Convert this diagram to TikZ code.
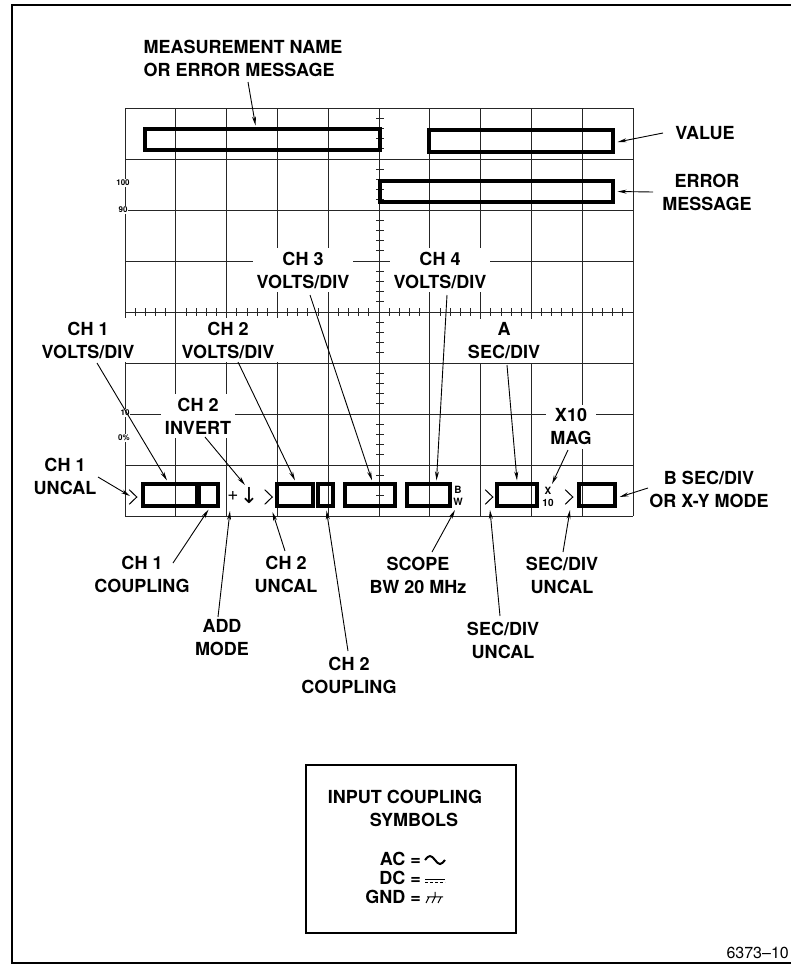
\documentclass[tikz,border=0pt]{standalone}
\usepackage{fontspec}
\setmainfont{TeX Gyre Heros}
\newfontfamily\dvsans{DejaVu Sans}
\usetikzlibrary{arrows.meta,positioning,calc}

\begin{document}
\begin{tikzpicture}[
  x=1pt, y=-1pt,
  font=\bfseries\fontsize{18}{23}\selectfont,
  >=Stealth,
  lbl/.style={align=center, fill=white, inner sep=4pt},
  rdout/.style={draw=black, line width=3.2pt, inner sep=0pt, minimum height=22pt},
  gridln/.style={draw=black!85, line width=0.8pt},
  arr/.style={-{Stealth[length=9pt, width=4pt]}, line width=0.9pt},
  chev/.style={
    minimum width=9pt, minimum height=16pt, inner sep=0pt,
    path picture={\draw[line width=1pt]
      ([xshift=0.7pt,yshift=-0.7pt]path picture bounding box.north west)
      -- ([xshift=-0.7pt]path picture bounding box.east)
      -- ([xshift=0.7pt,yshift=0.7pt]path picture bounding box.south west);}
  },
  sclbl/.style={font=\bfseries\fontsize{8}{8}\selectfont, fill=white, inner sep=1pt},
  mini/.style={font=\bfseries\fontsize{10}{11.5}\selectfont, align=center, inner sep=0pt}
]
  \useasboundingbox (0,0) rectangle (791,970);

  %% frame
  \draw[line width=1.8pt] (791,5) -- (12,5) -- (12,963) -- (791,963);

  %% graticule
  \foreach \i in {0,...,10}
    \draw[gridln] ({125+50.8*\i},108) -- ({125+50.8*\i},516);
  \foreach \j in {0,...,8}
    \draw[gridln] (125,{108+51*\j}) -- (633,{108+51*\j});
  \foreach \k in {1,...,49}
    \draw[gridln] ({125+10.16*\k},308) -- ({125+10.16*\k},316);
  \foreach \k in {1,...,39}
    \draw[gridln] (376,{108+10.2*\k}) -- (384,{108+10.2*\k});

  \node[sclbl] (p100) at (123,183) {100};
  \node[sclbl] (p90) at (123,210) {90};
  \node[sclbl] (p10) at (125,413) {10};
  \node[sclbl] (p0) at (124,438) {0\%};

  %% labels
  \node[lbl, align=left] (meas) at (243,58) {MEASUREMENT NAME\\OR ERROR MESSAGE};
  \node[lbl] (value) at (705,133) {VALUE};
  \node[lbl] (errm) at (707,192) {ERROR\\MESSAGE};
  \node[lbl] (ch3v) at (303,270) {CH 3\\VOLTS/DIV};
  \node[lbl] (ch4v) at (440,270) {CH 4\\VOLTS/DIV};
  \node[lbl] (ch1v) at (88,340) {CH 1\\VOLTS/DIV};
  \node[lbl] (ch2v) at (228,340) {CH 2\\VOLTS/DIV};
  \node[lbl] (asec) at (504,341) {A\\SEC/DIV};
  \node[lbl] (ch2inv) at (198,416) {CH 2\\INVERT};
  \node[lbl] (x10) at (571,427) {X10\\MAG};
  \node[lbl] (ch1unc) at (65,476) {CH 1\\UNCAL};
  \node[lbl] (bsec) at (709,489) {B SEC/DIV\\OR X-Y MODE};
  \node[lbl] (ch1cpl) at (142,574) {CH 1\\COUPLING};
  \node[lbl] (ch2unc) at (286,574) {CH 2\\UNCAL};
  \node[lbl] (scope) at (418,575) {SCOPE\\BW 20 MHz};
  \node[lbl] (sunc2) at (562,575) {SEC/DIV\\UNCAL};
  \node[lbl] (addm) at (222,638) {ADD\\MODE};
  \node[lbl] (sunc1) at (503,640) {SEC/DIV\\UNCAL};
  \node[lbl] (ch2cpl) at (349,675) {CH 2\\COUPLING};

  %% readouts, top
  \node[rdout, minimum width=235, minimum height=21] (mbox) at (262.5,139.5) {};
  \node[rdout, minimum width=184] (vbox) at (521,141) {};
  \node[rdout, minimum width=233, minimum height=21] (ebox) at (496.5,191.5) {};

  %% readouts, bottom row
  \node[chev] (gt1) at (133,497) {};
  \node[rdout, minimum width=54] (v1) at (170,495) {};
  \node[rdout, minimum width=19] (c1) at (208.5,495) {};
  \node[font=\fontsize{19}{19}\selectfont, inner sep=0pt] (pl) at (233,496) {+};
  \node[font=\dvsans\fontsize{22}{22}\selectfont, inner sep=0pt] (inv) at (249,496) {↓};
  \node[chev] (gt2) at (268.5,497) {};
  \node[rdout, minimum width=36] (v2) at (295,495) {};
  \node[rdout, minimum width=15] (c2) at (325.5,495) {};
  \node[rdout, minimum width=50] (v3) at (370,495) {};
  \node[rdout, minimum width=43] (v4) at (428.5,495) {};
  \node[mini] (bw) at (458,496) {B\\W};
  \node[chev] (gt3) at (489,497) {};
  \node[rdout, minimum width=40] (va) at (517,495) {};
  \node[mini] (xm) at (548,497) {X\\10};
  \node[chev] (gt4) at (569,497) {};
  \node[rdout, minimum width=36] (vb) at (597,495) {};

  %% leaders
  \draw[arr] ($(meas)+(5,24)$) -- ($(mbox.north)+(-7,-2)$);
  \draw[arr] ($(value)+(-42,0)$) -- ($(vbox.east)+(3,1)$);
  \draw[arr] ($(errm)+(-54,0)$) -- ($(ebox.east)+(3,0)$);
  \draw[arr] ($(ch1v)+(9,23)$) -- ($(v1.north)+(-3,-2)$);
  \draw[arr] ($(ch2v)+(10,22)$) -- ($(v2.north)+(0,-2)$);
  \draw[arr] ($(ch3v)+(7,25)$) -- ($(v3.north)+(2,-2)$);
  \draw[arr] ($(ch4v)+(7,25)$) -- ($(v4.north)+(8,-2)$);
  \draw[arr] ($(ch2inv)+(7,21)$) -- ($(inv)+(-4,-11)$);
  \draw[arr] ($(ch1unc)+(33,1)$) -- ($(gt1)+(-3,-1)$);
  \draw[arr] ($(x10)+(-3,23)$) -- ($(xm)+(4,-13)$);
  \draw[arr] ($(asec)+(3,24)$) -- ($(va.north)+(0,-2)$);
  \draw[arr] ($(bsec)+(-61,-1)$) -- ($(vb.east)+(3,2)$);
  \draw[arr] ($(ch1cpl)+(31,-11)$) -- ($(c1.south)+(0,2)$);
  \draw[arr] ($(addm)+(-4,-21)$) -- ($(pl)+(-3,15)$);
  \draw[arr] ($(ch2unc)+(-1,-23)$) -- ($(gt2)+(4,15)$);
  \draw[arr] ($(ch2cpl)+(-1,-24)$) -- ($(c2.south)+(1,3)$);
  \draw[arr] ($(scope)+(14,-23)$) -- ($(bw)+(-3,14)$);
  \draw[arr] ($(sunc1)+(-3,-24)$) -- ($(gt3)+(1,13)$);
  \draw[arr] ($(sunc2)+(1,-23)$) -- ($(gt4)+(1,13)$);

  %% legend
  \node[draw, line width=2.2pt, minimum width=210, minimum height=168, inner sep=0pt] (legend) at (411,849) {};
  \node[inner sep=0pt] (lgt1) at (405,797) {INPUT COUPLING};
  \node[inner sep=0pt] (lgt2) at (414,820) {SYMBOLS};
  \node[anchor=east, inner sep=0pt] (ac) at (421,859) {AC =};
  \node[below=5pt of ac.south east, anchor=north east, inner sep=0pt] (dc) {DC =};
  \node[below=5pt of dc.south east, anchor=north east, inner sep=0pt] (gnd) {GND =};
  \draw[line width=2pt] ($(ac.east)+(4,1)$) sin ++(5,-4) cos ++(5,4) sin ++(5,4) cos ++(5,-4);
  \draw[line width=1pt] ($(dc.east)+(4,2)$) -- ++(20,0);
  \draw[line width=1pt, dash pattern=on 3pt off 2pt] ($(dc.east)+(4,5)$) -- ++(20,0);
  \draw[line width=1pt] ($(gnd.east)+(14,-5)$) -- ++(0,5)
    ($(gnd.east)+(6,0)$) -- ++(16,0)
    ($(gnd.east)+(8,0)$) -- ++(-3,6)
    ($(gnd.east)+(14,0)$) -- ++(-3,6)
    ($(gnd.east)+(20,0)$) -- ++(-3,6);

  \node[anchor=east, font=\fontsize{16}{16}\selectfont, inner sep=0pt] (figno) at (789,953) {6373--10};
\end{tikzpicture}
\end{document}
